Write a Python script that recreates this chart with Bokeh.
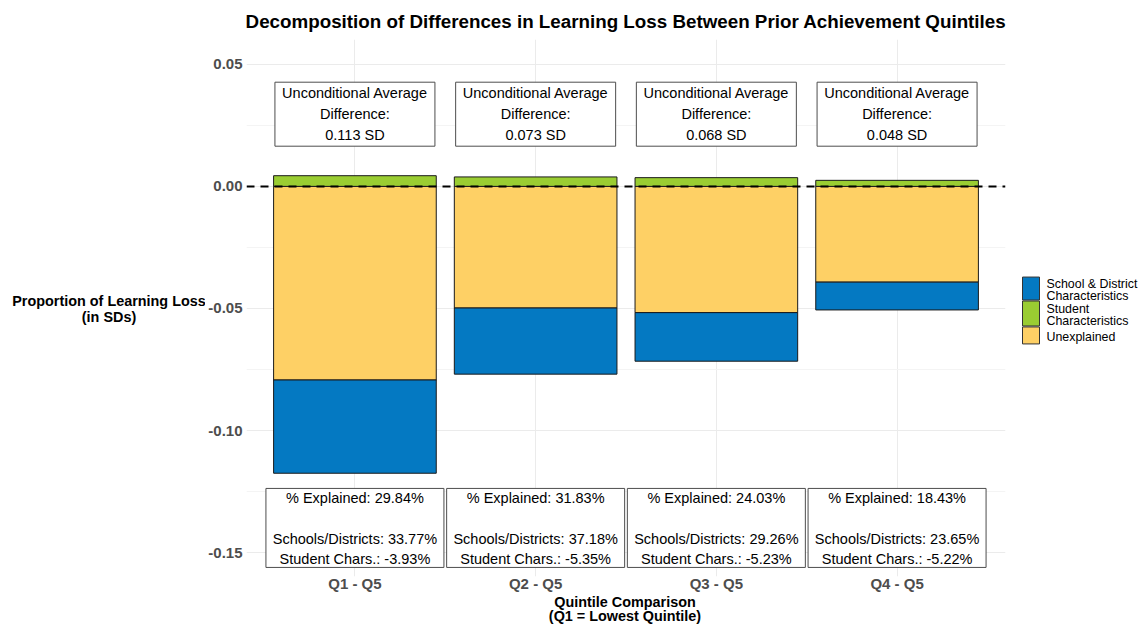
from bokeh.plotting import figure
from bokeh.layouts import row, column
from bokeh.models import (Range1d, FixedTicker, Span, ColumnDataSource,
                          NumeralTickFormatter)
from bokeh.core.properties import value
from bokeh.embed import file_html
from bokeh.resources import INLINE

# ---------------- data ----------------
categories = ["Q1 - Q5", "Q2 - Q5", "Q3 - Q5", "Q4 - Q5"]
student = [0.0044, 0.0039, 0.0036, 0.0025]          # Student Characteristics (above 0)
unexplained = [-0.0793, -0.0498, -0.0517, -0.0392]  # Unexplained
school = [-0.0382, -0.0271, -0.0199, -0.0114]       # School & District Characteristics
diff_text = ["0.113 SD", "0.073 SD", "0.068 SD", "0.048 SD"]
explained_pct = ["29.84%", "31.83%", "24.03%", "18.43%"]
school_pct = ["33.77%", "37.18%", "29.26%", "23.65%"]
student_pct = ["-3.93%", "-5.35%", "-5.23%", "-5.22%"]
y_ticks = [-0.15, -0.10, -0.05, 0.00, 0.05]
y_minor_ticks = [-0.125, -0.075, -0.025, 0.025]
legend_labels = [["School & District", " Characteristics"],
                 ["Student", " Characteristics"],
                 ["Unexplained"]]

BLUE = "#0479C2"
GREEN = "#9ACD32"
YELLOW = "#FED065"
legend_colors = [BLUE, GREEN, YELLOW]
FONT = "Liberation Sans"

TOTAL_W = 1144
H = 594            # height of the upper row
BOTTOM_H = 30      # strip holding the x-axis title
LEFT_W, MAIN_W, RIGHT_W = 205, 805, 134
FRAME_TOP, FRAME_BOTTOM = 38, 576

xs = list(range(1, len(categories) + 1))
y0, y1 = -0.1598, 0.0602

src = ColumnDataSource(dict(
    x=xs,
    student=student,
    unexpl=unexplained,
    school_bottom=[u + s for u, s in zip(unexplained, school)],
    l1=["Unconditional Average"] * len(xs),
    l2=["Difference:"] * len(xs),
    l3=diff_text,
    b1=["% Explained: " + e for e in explained_pct],
    b3=["Schools/Districts: " + s for s in school_pct],
    b4=["Student Chars.: " + s for s in student_pct],
))

# ---------------- main plot ----------------
p = figure(width=MAIN_W, height=H, output_backend="svg", toolbar_location=None,
           x_range=Range1d(0.4, 4.6), y_range=Range1d(y0, y1),
           min_border_left=39, min_border_right=5, min_border_top=FRAME_TOP,
           min_border_bottom=H - FRAME_BOTTOM)
p.outline_line_color = None
p.background_fill_color = "white"

p.title.text = "Decomposition of Differences in Learning Loss Between Prior Achievement Quintiles"
p.title.align = "center"
p.title.text_font = FONT
p.title.text_font_size = "18.8px"
p.title.text_font_style = "bold"
p.title.text_color = "black"
p.title.standoff = 16

p.xaxis.ticker = FixedTicker(ticks=xs)
p.xaxis.major_label_overrides = {x: c for x, c in zip(xs, categories)}
p.yaxis.ticker = FixedTicker(ticks=y_ticks, minor_ticks=y_minor_ticks)
p.yaxis.formatter = NumeralTickFormatter(format="0.00")
for ax in (p.xaxis, p.yaxis):
    ax.axis_line_color = None
    ax.major_tick_line_color = None
    ax.minor_tick_line_color = None
    ax.major_tick_out = 0
    ax.major_tick_in = 0
    ax.minor_tick_out = 0
    ax.major_label_text_font = FONT
    ax.major_label_text_font_style = "bold"
    ax.major_label_text_font_size = "15px"
    ax.major_label_text_color = "#4d4d4d"
p.xaxis.major_label_standoff = -2
p.yaxis.major_label_standoff = 4

p.xgrid.grid_line_color = "#ebebeb"
p.ygrid.grid_line_color = "#ebebeb"
p.ygrid.minor_grid_line_color = "#f4f4f4"

p.vbar(x="x", width=0.9, bottom=0, top="student", source=src,
       fill_color=GREEN, line_color="#1a1a1a", line_width=1)
p.vbar(x="x", width=0.9, top=0, bottom="unexpl", source=src,
       fill_color=YELLOW, line_color="#1a1a1a", line_width=1)
p.vbar(x="x", width=0.9, top="unexpl", bottom="school_bottom", source=src,
       fill_color=BLUE, line_color="#1a1a1a", line_width=1)

p.add_layout(Span(location=0, dimension="width", line_color="black",
                  line_width=2, line_dash="8 6"))

top_y = 0.0296
p.rect(x="x", y=top_y, width=160, height=64, width_units="screen",
       height_units="screen", source=src, fill_color="white",
       line_color="#4d4d4d", line_width=1)
for col, off in (("l1", -21), ("l2", 0), ("l3", 21)):
    p.text(x="x", y=top_y, text=col, source=src, y_offset=off,
           text_align="center", text_baseline="middle",
           text_font=value(FONT), text_font_size="14.5px", text_color="black")

bot_y = -0.1399
p.rect(x="x", y=bot_y, width=178, height=79, width_units="screen",
       height_units="screen", source=src, fill_color="white",
       line_color="#4d4d4d", line_width=1)
for col, off in (("b1", -30), ("b3", 11), ("b4", 31)):
    p.text(x="x", y=bot_y, text=col, source=src, y_offset=off,
           text_align="center", text_baseline="middle",
           text_font=value(FONT), text_font_size="14.5px", text_color="black")

# ---------------- helper panels ----------------
def side_panel(w):
    # frame spans the same rows as the main frame; y in page pixels
    f = figure(width=w, height=H, output_backend="svg", toolbar_location=None,
               title=None, x_range=Range1d(0, w),
               y_range=Range1d(FRAME_BOTTOM, FRAME_TOP),
               min_border_left=0, min_border_right=0,
               min_border_top=FRAME_TOP, min_border_bottom=H - FRAME_BOTTOM,
               x_axis_location=None, y_axis_location=None)
    f.outline_line_color = None
    f.grid.visible = False
    return f

# left: y-axis title
left = side_panel(LEFT_W)
mid = (FRAME_TOP + FRAME_BOTTOM) / 2
left.text(x=[108.5, 108.5], y=[mid - 7, mid + 9],
          text=["Proportion of Learning Loss", "(in SDs)"],
          text_align="center", text_baseline="middle",
          text_font=value(FONT), text_font_size="14.4px",
          text_font_style="bold", text_color="black")

# right: legend
right = side_panel(RIGHT_W)
key_x0, key_w = 12, 17
key_heights = [23, 25, 17]
key_top = 276
tops, bottoms, lx, ly, lt = [], [], [], [], []
cur = key_top
for lines, hgt in zip(legend_labels, key_heights):
    tops.append(cur)
    bottoms.append(cur + hgt)
    n = len(lines)
    c = cur + hgt / 2 + 1.5
    for i, t in enumerate(lines):
        lx.append(key_x0 + key_w + 7)
        ly.append(c + (i - (n - 1) / 2) * 12.5)
        lt.append(t)
    cur += hgt + 1
right.quad(left=[key_x0] * 3, right=[key_x0 + key_w] * 3, top=tops, bottom=bottoms,
           fill_color=legend_colors, line_color="#333333", line_width=1)
right.text(x=lx, y=ly, text=lt, text_align="left", text_baseline="middle",
           text_font=value(FONT), text_font_size="12.4px", text_color="black")

# bottom: x-axis title
bottom = figure(width=TOTAL_W, height=BOTTOM_H, output_backend="svg",
                toolbar_location=None, title=None,
                x_range=Range1d(0, TOTAL_W), y_range=Range1d(BOTTOM_H, 0),
                min_border=0, x_axis_location=None, y_axis_location=None)
bottom.outline_line_color = None
bottom.grid.visible = False
xt_center = LEFT_W + 39 + (MAIN_W - 39 - 5) / 2
bottom.text(x=[xt_center, xt_center], y=[7.5, 21.5],
            text=["Quintile Comparison", "(Q1 = Lowest Quintile)"],
            text_align="center", text_baseline="middle",
            text_font=value(FONT), text_font_size="14.4px",
            text_font_style="bold", text_color="black")

layout = column(row(left, p, right), bottom)
open("out.html", "w").write(file_html(layout, INLINE))
